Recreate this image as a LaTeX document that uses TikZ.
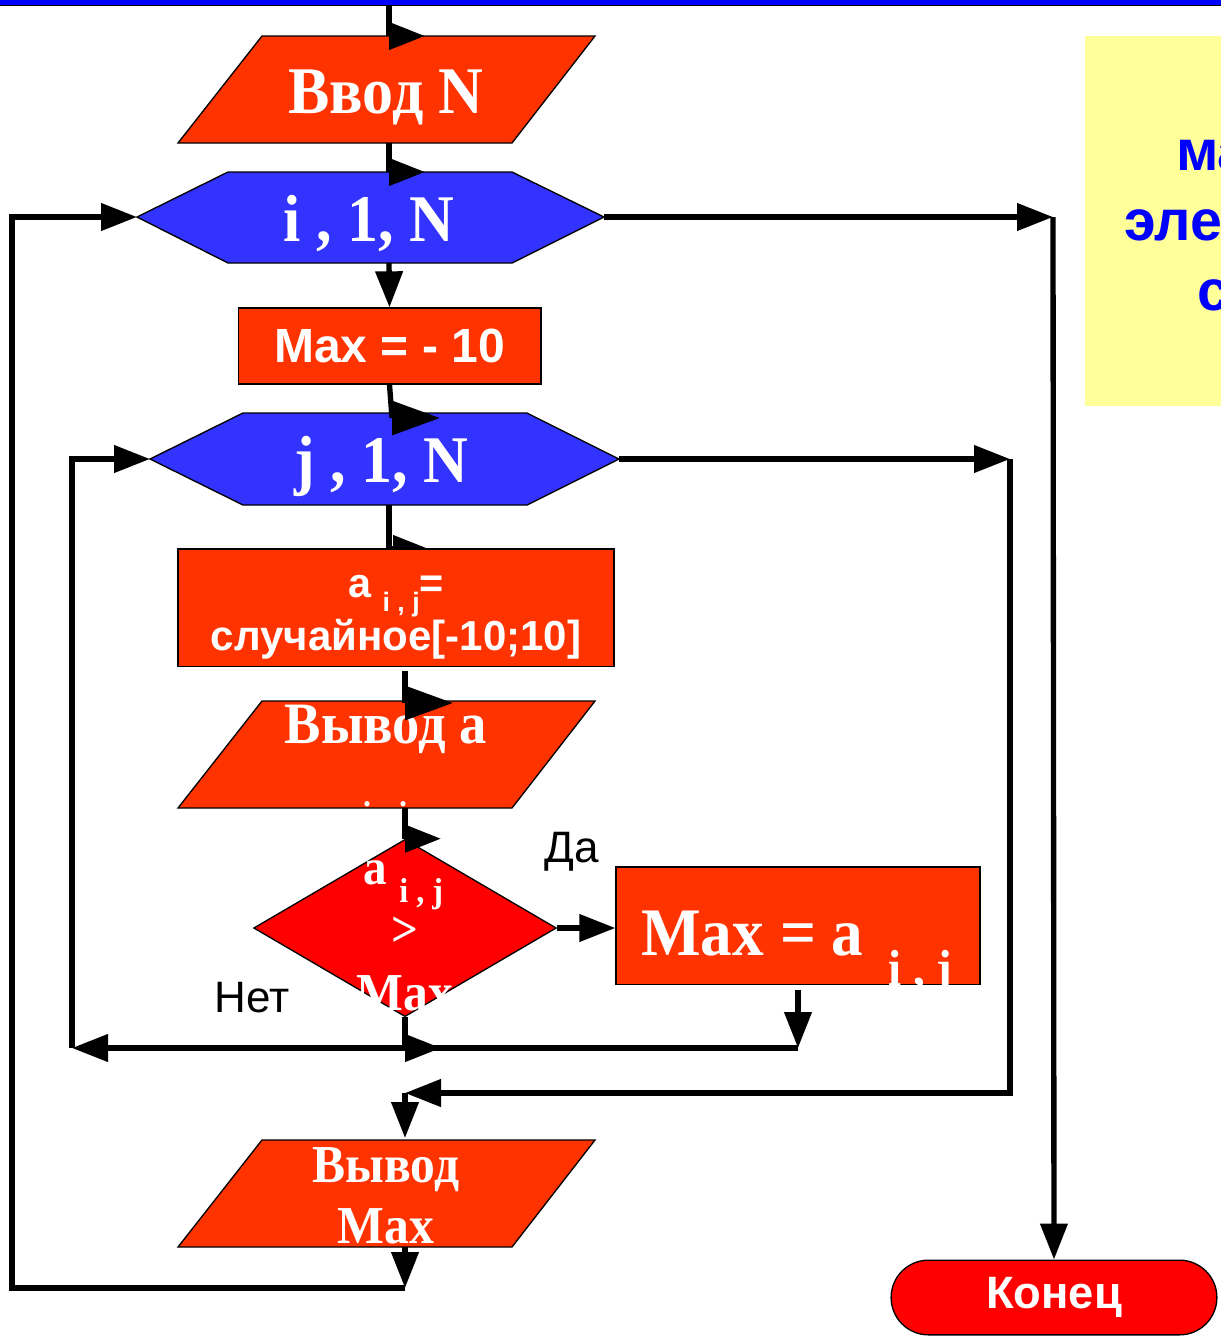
\documentclass[tikz,border=0pt]{standalone}
\usepackage{fontspec}
\setmainfont{Liberation Serif}[FakeStretch=0.93]
\setsansfont{Liberation Sans}
\usetikzlibrary{arrows.meta}
\usetikzlibrary{shapes.geometric}
\usetikzlibrary{shapes.misc}
\definecolor{narancs}{RGB}{255,51,0}
\definecolor{kek}{RGB}{51,51,255}
\definecolor{piros}{RGB}{255,0,0}
\definecolor{sarga}{RGB}{255,255,153}
\definecolor{sotetkek}{RGB}{0,0,255}

\begin{document}
\begin{tikzpicture}[x=0.75pt, y=-0.75pt,
blokk/.style={fill=narancs, draw=black, line width=1pt},
ciklus/.style={fill=kek, draw=black, line width=1pt},
dontes/.style={diamond, fill=piros, draw=black, line width=1pt, inner sep=0, minimum width=227pt, minimum height=133pt},
teglalap/.style={blokk, rectangle, inner sep=0},
vegpont/.style={rounded rectangle, fill=piros, draw=black, line width=1pt, minimum width=251pt, minimum height=56pt, text=white, font=\sffamily\bfseries\fontsize{34}{36}\selectfont},
vonal/.style={line width=4pt},
nyil/.style={vonal, -{Triangle[length=27pt,width=20pt]}},
nagynyil/.style={vonal, -{Triangle[length=36pt,width=25pt]}},
felirat/.style={text=white, inner sep=0, anchor=base},
valasz/.style={inner sep=0, anchor=base, font=\sffamily\fontsize{33}{35}\selectfont}]
\useasboundingbox (0,0) rectangle (1221,1340);
% fejlec es megjegyzes
\fill[sotetkek] (0,0) rectangle (1221,5);
\draw[line width=1pt] (0,5.5) -- (1221,5.5);
\fill[sarga] (1085,36) rectangle (1230,406);
\node[anchor=base west, inner sep=0, text=sotetkek, font=\sffamily\bfseries\fontsize{43}{45}\selectfont] (megj1) at (1176,170) {ма};
\node[anchor=base west, inner sep=0, text=sotetkek, font=\sffamily\bfseries\fontsize{43}{45}\selectfont] (megj2) at (1124,240) {эле};
\node[anchor=base west, inner sep=0, text=sotetkek, font=\sffamily\bfseries\fontsize{43}{45}\selectfont] (megj3) at (1197,310) {с};
%%%%%%%%%% BLOKKOK %%%%%%%%%%%
\draw[blokk] (262,36) -- (595,36) -- (512,143) -- (178,143) -- cycle;
\coordinate (bevitel-f) at (389,36);
\coordinate (bevitel-a) at (389,143);
\node[felirat, font=\bfseries\fontsize{50}{52}\selectfont] (bevitel) at (386,113) {Ввод N};
\draw[ciklus] (137,217) -- (228,172) -- (512,172) -- (604,217) -- (512,263) -- (228,263) -- cycle;
\coordinate (i-bal) at (137,217);
\coordinate (i-jobb) at (604,217);
\coordinate (i-f) at (389,172);
\coordinate (i-a) at (389,263);
\node[felirat, font=\bfseries\fontsize{50}{52}\selectfont] (icik) at (369,241) {i , 1, N};
\node[teglalap, minimum width=227pt, minimum height=57pt, text=white, font=\sffamily\bfseries\fontsize{36}{38}\selectfont] (kezdo) at (389.5,346) {Max = - 10};
\draw[ciklus] (150,459) -- (243,413) -- (527,413) -- (619,459) -- (527,505) -- (243,505) -- cycle;
\coordinate (j-bal) at (150,459);
\coordinate (j-jobb) at (619,459);
\coordinate (j-f) at (392,418);
\coordinate (j-a) at (389,505);
\node[felirat, font=\bfseries\fontsize{50}{52}\selectfont] (jcik) at (381,482) {j , 1, N};
\coordinate (ertek-f) at (389,549);
\draw[vonal] (j-a) -- (ertek-f);
\draw[nyil] (ertek-f) -- ++(40,0);
\node[teglalap, minimum width=327pt, minimum height=88pt] (ertek) at (396,607.5) {};
\node[felirat, font=\sffamily\bfseries\fontsize{31}{33}\selectfont] (ertek1) at (396,597) {a \raisebox{-11pt}{\fontsize{20}{22}\selectfont i , j}=};
\node[felirat, font=\sffamily\bfseries\fontsize{31.5}{33}\selectfont] (ertek2) at (396,650) {случайное[-10;10]};
\coordinate (ertek-a) at (405,671);
\draw[blokk] (262,701) -- (595,701) -- (512,808) -- (178,808) -- cycle;
\coordinate (kiir-f) at (405,703);
\coordinate (kiir-a) at (405,808);
\node[felirat, font=\bfseries\fontsize{44}{46}\selectfont] (kiir) at (386,743) {Вывод а};
\node[felirat, anchor=base west, font=\bfseries\fontsize{27}{28}\selectfont] (kiir-index) at (362,826) {i , j};
\node[dontes] (felt) at (405,928) {};
\node[felirat, font=\bfseries\fontsize{38}{40}\selectfont] (felt-a) at (375,884) {a};
\node[felirat, anchor=base west, font=\bfseries\fontsize{26}{27}\selectfont] (felt-index) at (399,902) {i , j};
\node[felirat, font=\bfseries\fontsize{38}{40}\selectfont] (felt-rel) at (405,946) {>};
\node[felirat, font=\bfseries\fontsize{40}{42}\selectfont] (felt-max) at (405,1010) {Max};
\node[teglalap, minimum width=273pt, minimum height=88pt] (uj) at (798,925.5) {};
\node[felirat, anchor=base west, font=\bfseries\fontsize{51}{52}\selectfont] (uj-szoveg) at (641,955) {Max = a};
\node[felirat, anchor=base west, font=\bfseries\fontsize{38}{40}\selectfont] (uj-index) at (888,985) {i , j};
\draw[blokk] (262,1140) -- (595,1140) -- (512,1247) -- (178,1247) -- cycle;
\coordinate (vmax-f) at (405,1138);
\coordinate (vmax-a) at (405,1247);
\node[felirat, font=\bfseries\fontsize{40}{42}\selectfont] (vmax1) at (386,1182) {Вывод};
\node[felirat, font=\bfseries\fontsize{40}{42}\selectfont] (vmax2) at (386,1243) {Max};
\node[vegpont] (veg) at (1054,1297.5) {Конец};
\node[valasz] (igen) at (572,862) {Да};
\node[valasz] (nem) at (252,1012) {Нет};
%%%%%%%%%% NYILAK %%%%%%%%%%%
\coordinate (start) at (389,6);
\coordinate (belso-k) at (405,1048);
\coordinate (belso) at (72,1048);
\coordinate (j-kijarat) at (1010,459);
\coordinate (vissza) at (405,1093);
\coordinate (kulso) at (405,1288);
\coordinate (i-kijarat) at (1053,217);
\draw[vonal] (start) -- (bevitel-f);
\draw[nyil] (bevitel-f) -- ++(36,0);
\draw[vonal] (bevitel-a) -- (i-f);
\draw[nyil] (i-f) -- ++(36,0);
\draw[nyil] (i-a) -- (kezdo.north);
\draw[vonal] (kezdo.south) -- (j-f);
\draw[nagynyil] (j-f) -- ++(48,0);
\draw[vonal] (ertek-a) -- (kiir-f);
\draw[nagynyil] (kiir-f) -- ++(48,0);
\draw[vonal] (kiir-a) -- (felt.north);
\draw[nyil] (felt.north) -- ++(36,0);
\draw[nyil] (felt.east) -- (felt.east -| uj.west);
\draw[vonal] (felt.south) -- (belso-k);
\draw[nyil] (belso-k) -- ++(36,0);
\draw[nyil] (uj.south) ++(0,5) -- (uj.south |- belso-k);
\draw[nyil] (uj.south |- belso-k) -- (belso);
\draw[nyil] (belso) |- (j-bal);
\draw[nyil] (j-jobb) -- (j-kijarat);
\draw[nyil] (j-kijarat) |- (vissza);
\draw[nyil] (vissza) -- (vmax-f);
\draw[nyil] (vmax-a) -- (kulso);
\draw[nyil] (kulso) -- ++(-393,0) |- (i-bal);
\draw[nyil] (i-jobb) -- (i-kijarat);
\draw[nyil] (i-kijarat) -- (veg.north);
\end{tikzpicture}
\end{document}
